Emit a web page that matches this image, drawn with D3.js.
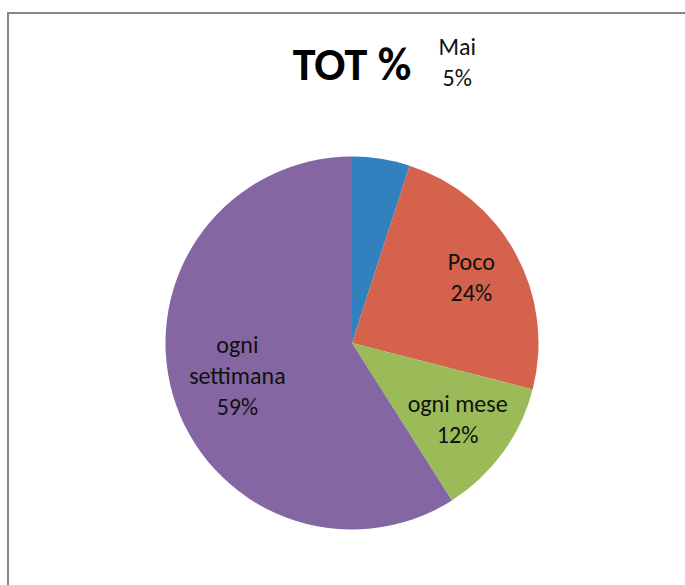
<!DOCTYPE html>
<html>
<head>
<meta charset="utf-8">
<script src="https://cdn.jsdelivr.net/npm/d3@7"></script>
<style>
  html, body { margin: 0; padding: 0; background: #fff; }
  svg { display: block; }
</style>
</head>
<body>
<svg id="chart" width="685" height="585"></svg>
<script>
// ---- data ----
const categories = ["Mai", "Poco", "ogni mese", "ogni settimana"];
const values = [5, 24, 12, 59];
const percentLabels = ["5%", "24%", "12%", "59%"];
const title = "TOT %";

// ---- styles / layout (not data) ----
const colors = ["#3280BD", "#D4624D", "#9BBB59", "#8366A2"];
const labelLines = [["Mai"], ["Poco"], ["ogni mese"], ["ogni", "settimana"]];
const labelRadiusFactor = [null, 0.73, 0.70, 0.64];
const W = 685, H = 585;
const cx = 352, cy = 343, R = 186.5;
const fontFamily = "Carlito, Lato, 'Open Sans', sans-serif";

const svg = d3.select("#chart");

// frame
svg.append("rect")
  .attr("x", 8).attr("y", 13)
  .attr("width", 720).attr("height", 620)
  .attr("fill", "#fff")
  .attr("stroke", "#878787")
  .attr("stroke-width", 2);

// title
svg.append("text")
  .attr("x", cx).attr("y", 80)
  .attr("text-anchor", "middle")
  .attr("font-family", fontFamily)
  .attr("font-weight", "bold")
  .attr("font-size", 46)
  .attr("fill", "#000")
  .text(title);

const data = categories.map((c, i) => ({ cat: c, value: values[i], pct: percentLabels[i], i }));

const pie = d3.pie().value(d => d.value).sort(null);
const arc = d3.arc().innerRadius(0).outerRadius(R);
const arcs = pie(data);

const g = svg.append("g").attr("transform", `translate(${cx},${cy})`);

g.selectAll("path.slice")
  .data(arcs)
  .enter().append("path")
  .attr("class", "slice")
  .attr("d", arc)
  .attr("fill", d => colors[d.data.i]);

// labels
const lineH = 31;
arcs.forEach(a => {
  const i = a.data.i;
  let x, y;
  if (labelRadiusFactor[i] == null) {
    // outside label (placed above the slice, as in the original)
    const mid = (a.startAngle + a.endAngle) / 2;
    x = Math.sin(mid) * R + 76;
    y = -Math.cos(mid) * R - 96;
  } else {
    const lr = R * labelRadiusFactor[i];
    const la = d3.arc().innerRadius(lr).outerRadius(lr);
    [x, y] = la.centroid(a);
  }
  const lines = labelLines[i].concat([a.data.pct]);
  const n = lines.length;
  const t = g.append("text")
    .attr("text-anchor", "middle")
    .attr("font-family", fontFamily)
    .attr("font-size", 24)
    .attr("fill", "#111");
  lines.forEach((ln, k) => {
    t.append("tspan")
      .attr("x", x)
      .attr("y", y + (k - (n - 1) / 2) * lineH + 8)
      .text(ln);
  });
});
</script>
</body>
</html>
